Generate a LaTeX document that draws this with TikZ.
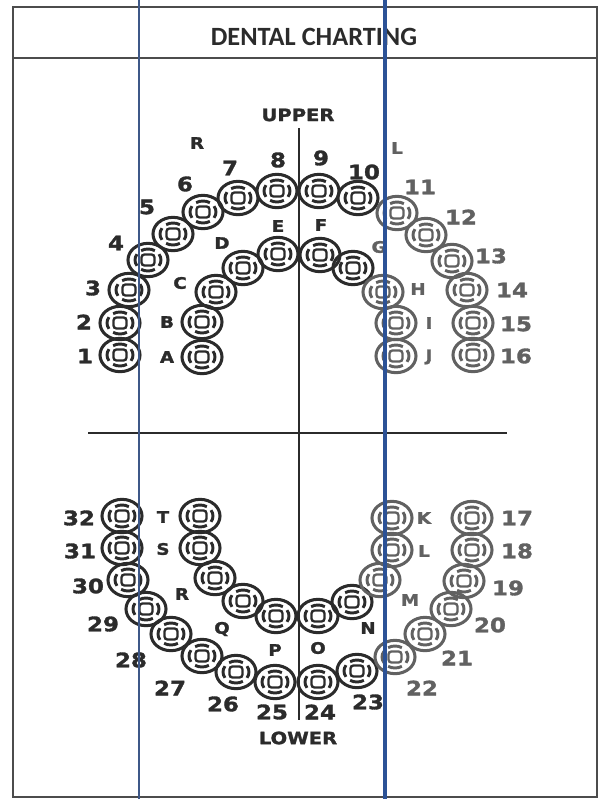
\documentclass[tikz,border=0pt]{standalone}
\usepackage{fontspec}
\setsansfont{DejaVu Sans}[BoldFeatures={FakeBold=1.6, FakeStretch=1.15}]
\newfontfamily\headfont{Carlito}
\usetikzlibrary{shapes.geometric}
\definecolor{dk}{gray}{0.17}
\definecolor{fd}{gray}{0.38}
\definecolor{penblue}{RGB}{62,88,136}
\definecolor{inkblue}{RGB}{44,82,150}
\tikzset{
  tooth/.style={ellipse, draw, line width=2.6pt, minimum width=1.2cm, minimum height=1.0cm, inner sep=0pt},
  ring/.style={line width=2.5pt},
  core/.style={line width=2pt, rounded corners=2.5pt},
  toothnum/.style={font=\sffamily\bfseries\fontsize{17}{17}\selectfont, inner sep=0pt},
  toothlet/.style={font=\sffamily\bfseries\fontsize{13.5}{13.5}\selectfont, inner sep=0pt},
}
\begin{document}
\begin{tikzpicture}[x=0.03cm, y=-0.03cm]
  \useasboundingbox (0,0) rectangle (601,799);
  \draw[line width=1.2pt, black!70] (13,7) rectangle (597,797);
  \draw[line width=1.2pt, black!70] (13,58) -- (597,58);
  \node[font=\headfont\bfseries\fontsize{22.5}{22.5}\selectfont, text=dk] (title) at (314,37) {DENTAL CHARTING};
  \node[toothnum, dk, font=\sffamily\bfseries\fontsize{14.5}{14.5}\selectfont] (upper) at (298,115) {UPPER};
  \node[toothnum, dk, font=\sffamily\bfseries\fontsize{14.5}{14.5}\selectfont] (lower) at (298,738) {LOWER};
  % midline cross
  \coordinate (mtop) at (299,128); \coordinate (mbot) at (299,720);
  \coordinate (mleft) at (88,433); \coordinate (mright) at (507,433);
  \draw[line width=1.8pt, dk] (mtop) -- (mbot);
  \draw[line width=1.8pt, dk] (mleft) -- (mright);
  % teeth
  \foreach \n/\x/\y/\col in {1/120/355/dk, 2/120/323/dk, 3/129/290/dk, 4/148/260/dk, 5/173/234/dk,
      6/203/212/dk, 7/238/198/dk, 8/277/191/dk, 9/319/191/dk, 10/358/198/dk, 11/397/213/fd,
      12/426/235/fd, 13/452/261/fd, 14/467/290/fd, 15/473/323/fd, 16/473/355/fd,
      A/202/357/dk, B/202/322/dk, C/216/292/dk, D/243/268/dk, E/278/254/dk,
      F/320/255/dk, G/353/268/dk, H/383/292/fd, I/396/323/fd, J/396/356/fd,
      32/122/516/dk, 31/122/548/dk, 30/128/580/dk, 29/146/609/dk, 28/171/634/dk,
      27/202/656/dk, 26/236/672/dk, 25/275/682/dk, 24/318/682/dk, 23/357/671/dk,
      22/395/657/fd, 21/425/634/fd, 20/451/609/fd, 19/464/581/fd, 18/472/550/fd, 17/472/518/fd,
      T/200/516/dk, S/200/548/dk, R/215/578/dk, Q/243/601/dk, P/276/616/dk,
      O/318/616/dk, N/352/602/dk, M/380/580/fd, L/392/550/fd, K/392/518/fd} {
    \node[tooth, \col] (t\n) at (\x,\y) {};
    \foreach \a in {0,90,180,270}
      \draw[ring, \col] ([shift={(\a-32:13 and 11)}]t\n.center) arc[start angle=\a-32, end angle=\a+32, x radius=13, y radius=11];
    \draw[core, \col] ([shift={(-6.5,-5.5)}]t\n.center) rectangle ++(13,11);
  }
  % numbers
  \foreach \n/\x/\y/\col in {1/85/356/dk, 2/84/322/dk, 3/93/288/dk, 4/116/243/dk, 5/147/207/dk,
      6/185/184/dk, 7/230/168/dk, 8/278/160/dk, 9/321/158/dk, 10/364/172/dk, 11/420/187/fd,
      12/461/217/fd, 13/491/256/fd, 14/512/290/fd, 15/516/324/fd, 16/516/356/fd,
      32/79/518/dk, 31/80/551/dk, 30/88/586/dk, 29/103/624/dk, 28/131/660/dk, 27/170/688/dk,
      26/223/704/dk, 25/272/712/dk, 24/320/712/dk, 23/368/702/dk, 22/422/688/fd, 21/457/658/fd,
      20/490/625/fd, 19/508/588/fd, 18/517/551/fd, 17/517/518/fd}
    \node[toothnum, \col] (num\n) at (\x,\y) {\n};
  % letters
  \foreach \n/\x/\y/\col in {A/167/357/dk, B/167/322/dk, C/180/283/dk, D/222/243/dk, E/278/226/dk,
      F/321/225/dk, G/379/247/fd, H/418/289/fd, I/429/323/fd, J/429/357/fd,
      T/163/517/dk, S/163/549/dk, R/182/594/dk, Q/222/629/dk, P/275/650/dk,
      O/318/648/dk, N/368/628/dk, M/410/600/fd, L/424/551/fd, K/424/518/fd}
    \node[toothlet, \col] (let\n) at (\x,\y) {\n};
  \node[toothlet, dk] (sideR) at (197,143) {R};
  \node[toothlet, fd] (sideL) at (397,148) {L};
  % pen lines
  \coordinate (pa) at (139,0); \coordinate (pb) at (139,799);
  \coordinate (pc) at (385,0); \coordinate (pd) at (385,799);
  \draw[penblue, line width=1.3pt] (pa) -- (pb);
  \draw[inkblue, line width=3.4pt] (pc) -- (pd);
\end{tikzpicture}
\end{document}
